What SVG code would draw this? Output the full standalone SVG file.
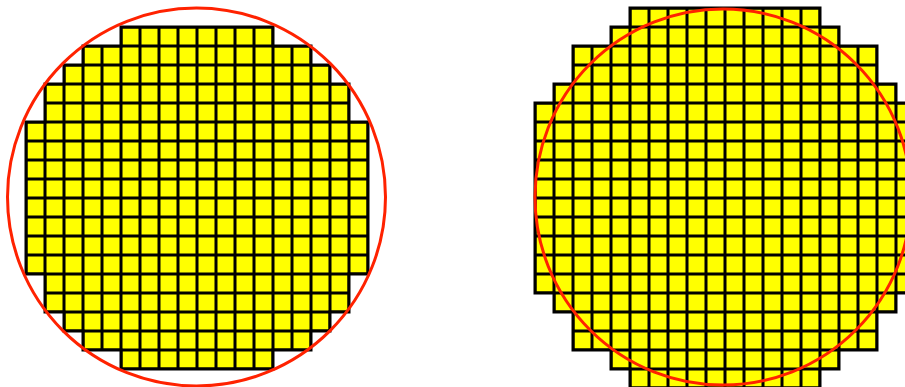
<svg xmlns="http://www.w3.org/2000/svg" width="905" height="387" viewBox="0 0 905 387">
  <style>
    .die { fill: url(#cells); stroke: #000; stroke-width: 3; stroke-linejoin: miter; }
    .edge { fill: none; stroke: #ff2200; stroke-width: 3; }
  </style>
  <defs>
    <pattern id="cells" patternUnits="userSpaceOnUse" x="0" y="0" width="19" height="19">
      <rect width="19" height="19" fill="#ffff00"/>
      <path d="M0 0H19M0 19H19M0 0V19M19 0V19" stroke="#000" stroke-width="3" fill="none"/>
    </pattern>
  </defs>
  <g id="wafer-left">
    <g transform="translate(26,27)">
      <polygon class="die" points="95,0 247,0 247,19 285,19 285,38 304,38 304,57 323,57 323,95 342,95 342,247 323,247 323,285 304,285 304,304 285,304 285,323 247,323 247,342 95,342 95,323 57,323 57,304 38,304 38,285 19,285 19,247 0,247 0,95 19,95 19,57 38,57 38,38 57,38 57,19 95,19"/>
    </g>
    <circle class="edge" cx="196.5" cy="197" r="189"/>
  </g>
  <g id="wafer-right">
    <g transform="translate(535,8)">
      <polygon class="die" points="95,0 285,0 285,19 304,19 304,38 342,38 342,76 361,76 361,95 380,95 380,285 361,285 361,304 342,304 342,342 304,342 304,361 285,361 285,380 95,380 95,361 76,361 76,342 38,342 38,304 19,304 19,285 0,285 0,95 19,95 19,76 38,76 38,38 76,38 76,19 95,19"/>
    </g>
    <circle class="edge" cx="723" cy="197" r="188"/>
  </g>
</svg>
